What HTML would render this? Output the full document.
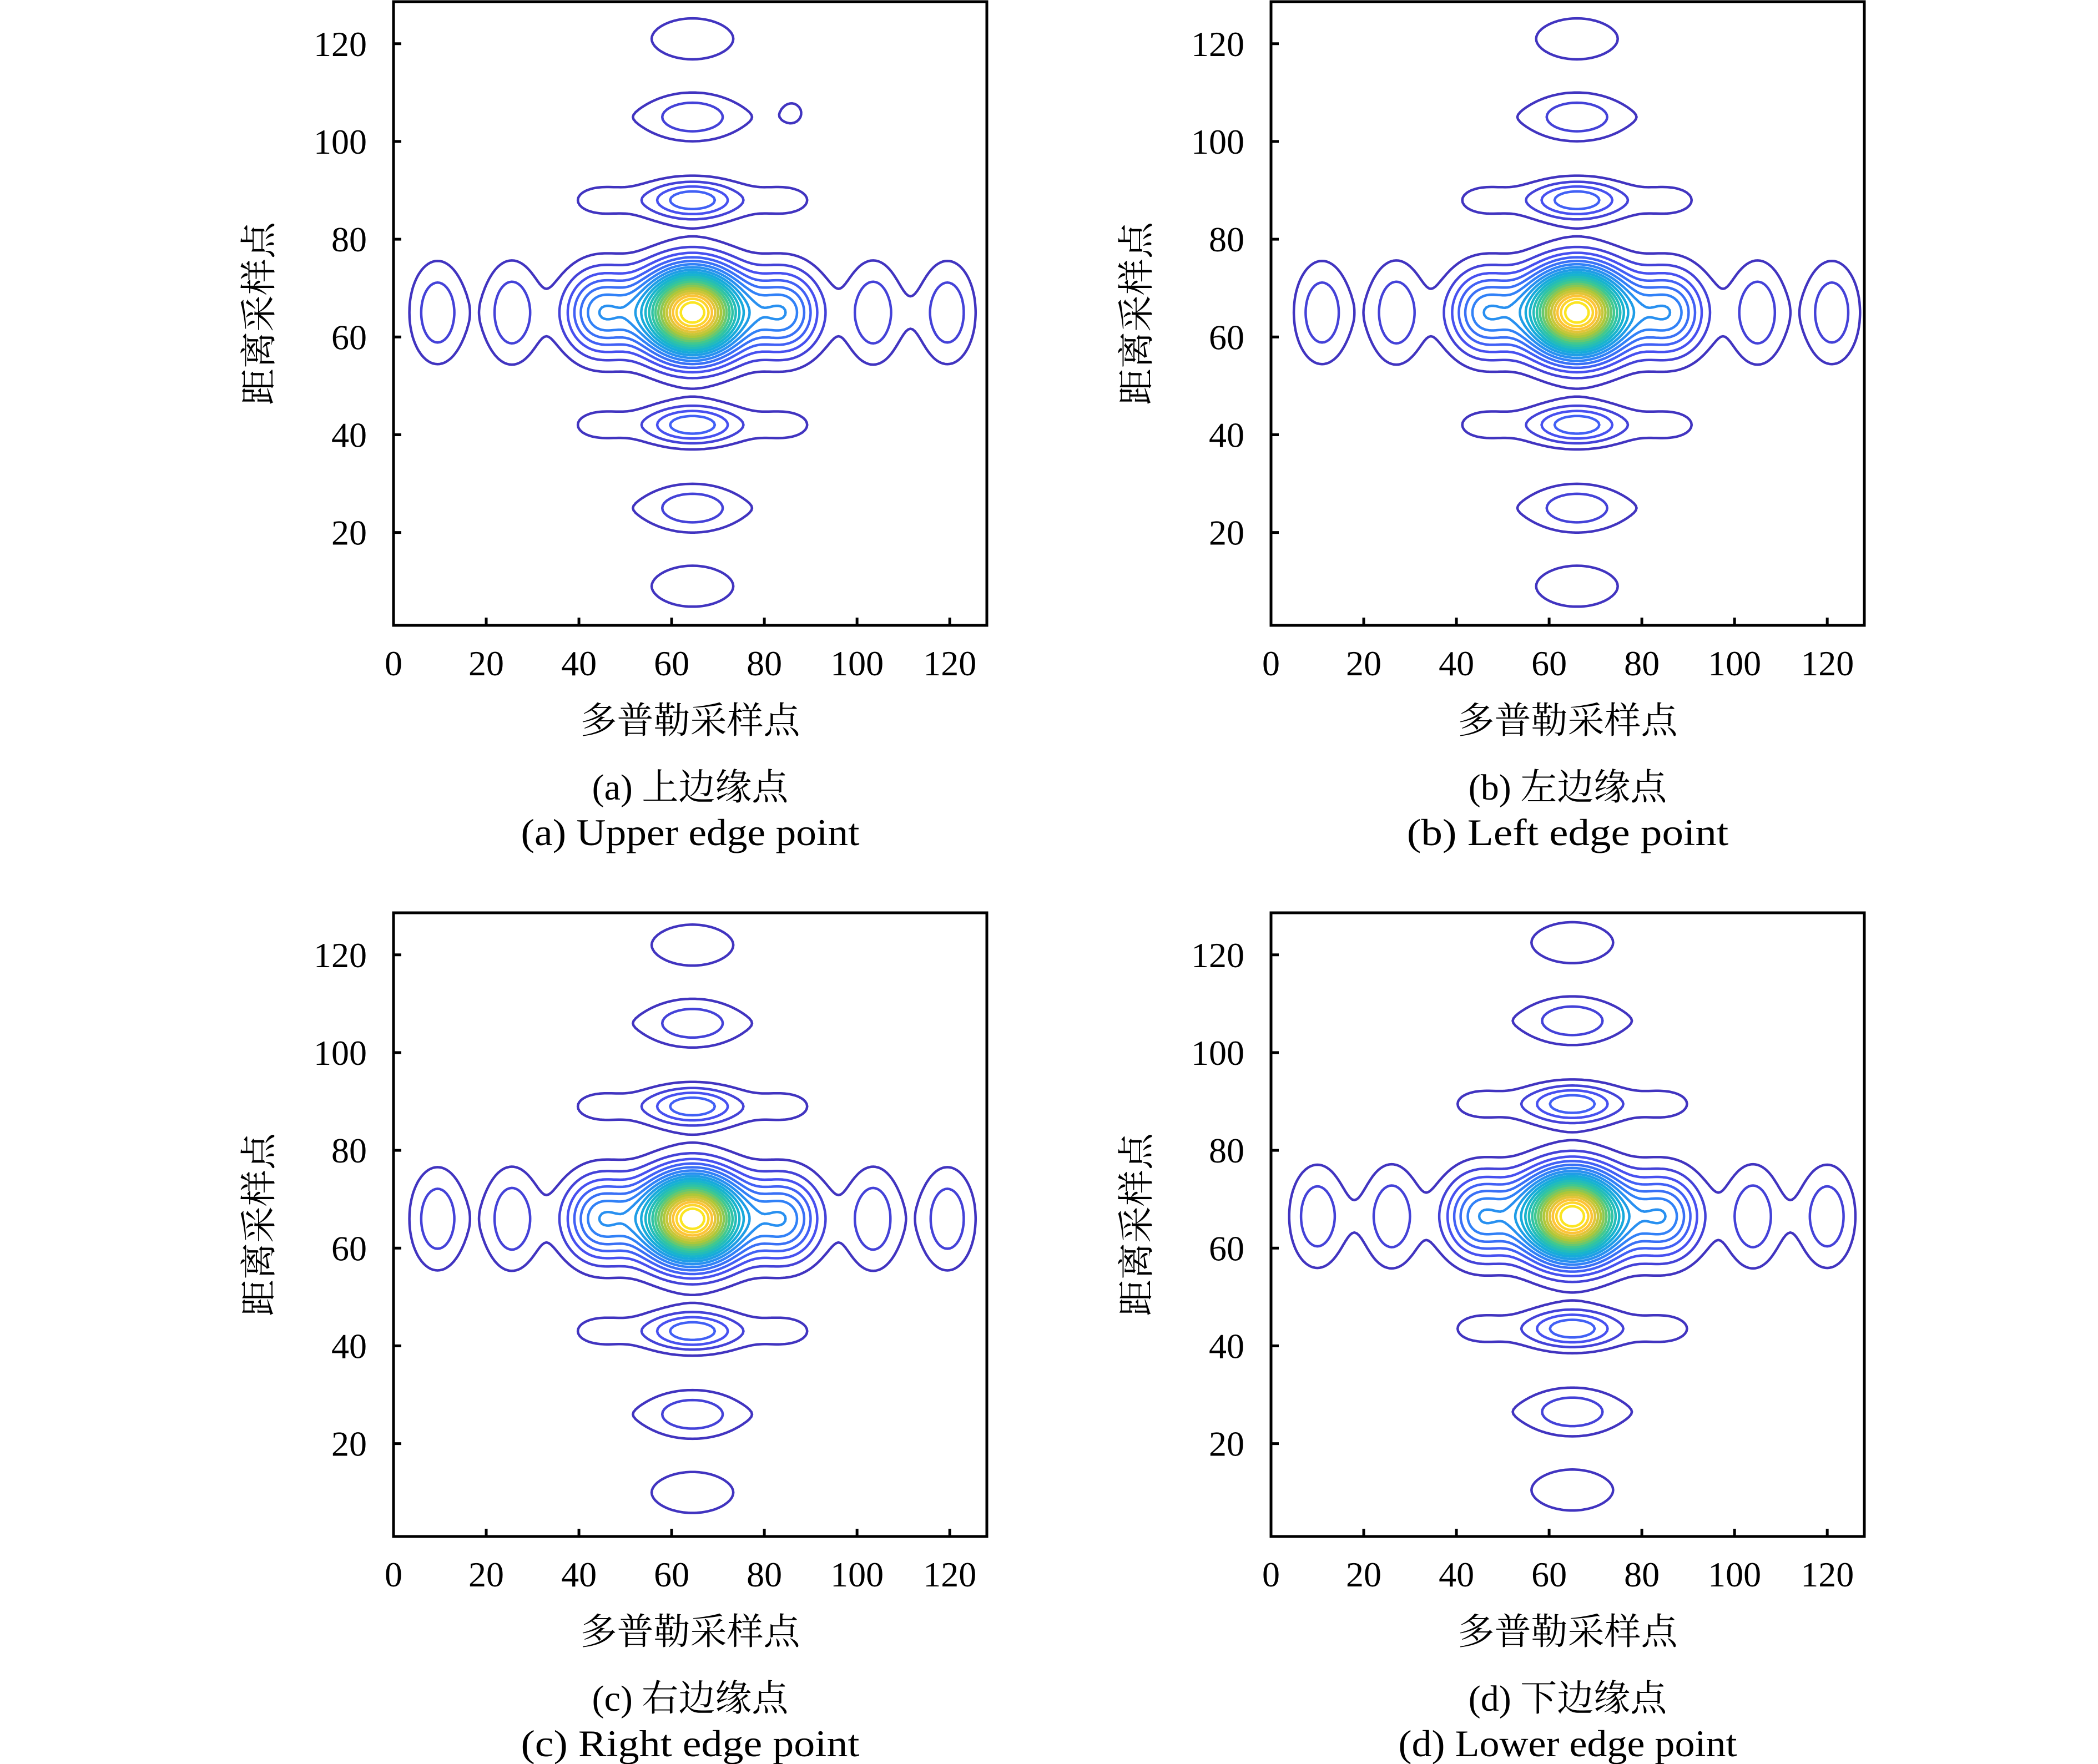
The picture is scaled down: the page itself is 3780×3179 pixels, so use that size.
<!DOCTYPE html>
<html><head><meta charset="utf-8"><style>
html,body{margin:0;padding:0;background:#fff;}
svg{display:block;}
text{font-family:"Liberation Serif","Noto Serif CJK SC",serif;fill:#000;}
</style></head><body>
<svg id="fig" width="3780" height="3179" viewBox="0 0 3780 3179" xmlns="http://www.w3.org/2000/svg"></svg>
<script>
// ---- data ----
const panelIds = ['a','b','c','d'];
const captionsCN = ['(a) 上边缘点','(b) 左边缘点','(c) 右边缘点','(d) 下边缘点'];
const captionsEN = ['(a) Upper edge point','(b) Left edge point','(c) Right edge point','(d) Lower edge point'];
const xTicks = [0,20,40,60,80,100,120];
const yTicks = [20,40,60,80,100,120];
const xTitle = '多普勒采样点';
const yTitle = '距离采样点';
const centersX = [64.5, 66, 64.5, 65];
const centersY = [65, 65, 66, 66.5];
// main + shoulder x-profile
const mainSigmaX = 7.4;
const shoulderOffset = 20, shoulderSigma = 5.5, shoulderAmp = 0.29;
// outer x lobes (offset from centre) – each with its own x and y width
const xLobeOffsets = [-55,-39,39,55];
const xLobeSigma = [4.2,4.2,4.2,4.2];
const xLobeYSigma = [7.3,7.3,7.3,7.3];
const xLobeAmpA = [0.128,0.13,0.13,0.128];
const xLobeAmpB = [0.128,0.13,0.13,0.128];
const xLobeAmpC = [0.128,0.13,0.13,0.128];
const xLobeAmpD = [0.128,0.13,0.13,0.128];
// bridge fill between 2nd and 3rd x lobes (left, right)
const bridgeOffsets = [-47,47];
const bridgeAmpA = [0,0.01];
const bridgeAmpB = [0,0];
const bridgeAmpC = [0,0];
const bridgeAmpD = [0.01,0.01];
// y-profile lobes
const yLobeOffsets = [-56,-40,-23,0,23,40,56];
const yLobeSigma = [3.7,3.4,2.8,6.1,2.8,3.4,3.7];
const yLobeAmp = [0.085,0.13,0.22,1,0.22,0.13,0.085];
// extra isolated spot in panel (a)
const spotX = [86], spotY = [106], spotAmp = [0.053], spotSigma = [1.2];
const levels = [0.045,0.09,0.135,0.18,0.225,0.27,0.315,0.36,0.405,0.45,0.495,0.54,0.585,0.63,0.675,0.72,0.765,0.81,0.855,0.9,0.945];

const xAmps = [xLobeAmpA,xLobeAmpB,xLobeAmpC,xLobeAmpD];
const bAmps = [bridgeAmpA,bridgeAmpB,bridgeAmpC,bridgeAmpD];
const NS='http://www.w3.org/2000/svg';
const svg=document.getElementById('fig');
function mk(tag,attrs,parent){const e=document.createElementNS(NS,tag);for(const k in attrs)e.setAttribute(k,attrs[k]);(parent||svg).appendChild(e);return e;}

const parula=[[0,[62,38,168]],[1/7,[72,82,244]],[2/7,[46,135,247]],[3/7,[18,177,214]],[4/7,[55,200,151]],[5/7,[171,199,57]],[6/7,[254,195,56]],[1,[249,251,21]]];
function cmap(t){for(let i=1;i<parula.length;i++){if(t<=parula[i][0]){const a=parula[i-1],b=parula[i];const f=(t-a[0])/(b[0]-a[0]);const c=a[1].map((v,k)=>Math.round(v+(b[1][k]-v)*f));return `rgb(${c[0]},${c[1]},${c[2]})`;}}return 'rgb(249,251,21)';}

const W=1069, H=1124, X0s=[709,2290,709,2290], Y0s=[3,3,1645,1645];
const XMIN=0,XMAX=128,YMIN=1,YMAX=128.6;
const gauss=(d,s)=>Math.exp(-d*d/(2*s*s));
function yProfile(v){let s=0;for(let i=0;i<yLobeOffsets.length;i++)s+=yLobeAmp[i]*gauss(v-yLobeOffsets[i],yLobeSigma[i]);return s;}

panelIds.forEach((pid,p)=>{
  const g=mk('g',{});
  
  
  const x0=X0s[p], y0=Y0s[p];
  const sx=v=>x0+(v-XMIN)/(XMAX-XMIN)*W;
  const sy=v=>y0+H-(v-YMIN)/(YMAX-YMIN)*H;
  const step=0.5;
  const nx=Math.round((XMAX-XMIN)/step)+1, ny=Math.round((YMAX-YMIN)/step)+1;
  const F=new Float64Array(nx*ny);
  const amps=xAmps[p], bam=bAmps[p];
  for(let j=0;j<ny;j++){const yv=YMIN+j*step;const v=yv-centersY[p];const py=yProfile(v);
    for(let i=0;i<nx;i++){const xv=XMIN+i*step;const u=xv-centersX[p];
      let core=gauss(u,mainSigmaX)+shoulderAmp*(gauss(u-shoulderOffset,shoulderSigma)+gauss(u+shoulderOffset,shoulderSigma));
      let f=core*py;
      for(let k=0;k<xLobeOffsets.length;k++)f+=amps[k]*gauss(u-xLobeOffsets[k],xLobeSigma[k])*gauss(v,xLobeYSigma[k]);
      for(let k=0;k<bridgeOffsets.length;k++)f+=bam[k]*gauss(u-bridgeOffsets[k],2.5)*gauss(v,4);
      if(p===0){for(let s=0;s<spotX.length;s++){const dx=xv-spotX[s],dy=yv-spotY[s];f+=spotAmp[s]*Math.exp(-(dx*dx+dy*dy)/(2*spotSigma[s]*spotSigma[s]));}}
      F[j*nx+i]=f;}}
  const clip=mk('clipPath',{id:'clip'+pid},g);
  mk('rect',{x:x0,y:y0,width:W,height:H},clip);
  const cg=mk('g',{'clip-path':`url(#clip${pid})`},g);
  levels.forEach((L,li)=>{
    let d='';
    const P=(i,j)=>[sx(XMIN+i*step),sy(YMIN+j*step)];
    for(let j=0;j<ny-1;j++)for(let i=0;i<nx-1;i++){
      const a=F[j*nx+i],b=F[j*nx+i+1],c=F[(j+1)*nx+i+1],e=F[(j+1)*nx+i];
      const pts=[];
      const ed=(v1,v2,p1,p2)=>{if((v1>=L)!==(v2>=L)){const t=(L-v1)/(v2-v1);pts.push([p1[0]+(p2[0]-p1[0])*t,p1[1]+(p2[1]-p1[1])*t]);}};
      const A=P(i,j),B=P(i+1,j),C=P(i+1,j+1),D=P(i,j+1);
      ed(a,b,A,B);ed(b,c,B,C);ed(c,e,C,D);ed(e,a,D,A);
      for(let k=0;k+1<pts.length;k+=2)d+=`M${pts[k][0].toFixed(1)} ${pts[k][1].toFixed(1)}L${pts[k+1][0].toFixed(1)} ${pts[k+1][1].toFixed(1)}`;
    }
    if(d){const path=mk('path',{d:d,fill:'none',stroke:cmap(L),'stroke-width':4.5,'stroke-linecap':'round'},cg);
      
      }
  });
  const box=mk('rect',{x:x0,y:y0,width:W,height:H,fill:'none',stroke:'#000','stroke-width':5},g);
  
  
  xTicks.forEach(t=>{
    const X=sx(t);
    mk('line',{x1:X,y1:y0+H,x2:X,y2:y0+H-14,stroke:'#000','stroke-width':5},g);
    const tx=mk('text',{x:X,y:y0+H+90,'font-size':64,'text-anchor':'middle'},g);tx.textContent=t;
    
    
  });
  yTicks.forEach(t=>{
    const Y=sy(t);
    mk('line',{x1:x0,y1:Y,x2:x0+14,y2:Y,stroke:'#000','stroke-width':5},g);
    const tx=mk('text',{x:x0-48,y:Y+22,'font-size':64,'text-anchor':'end'},g);tx.textContent=t;
    
    
  });
  const cx=x0+W/2;
  const xt=mk('text',{x:cx,y:y0+1318,'font-size':66,'text-anchor':'middle'},g);xt.textContent=xTitle;
  
  
  const yx=x0-242, yy=y0+562;
  const yt=mk('text',{x:yx,y:yy,'font-size':66,'text-anchor':'middle',transform:`rotate(-90 ${yx} ${yy}) translate(0 22)`},g);yt.textContent=yTitle;
  
  
  const c1=mk('text',{x:cx,y:y0+1438,'font-size':66,'text-anchor':'middle'},g);c1.textContent=captionsCN[p];
  
  
  const c2=mk('text',{x:cx,y:y0+1520,'font-size':68,'text-anchor':'middle',textLength:captionsEN[p].length*30.5,lengthAdjust:'spacingAndGlyphs'},g);c2.textContent=captionsEN[p];
  
  
});
</script>
</body></html>
